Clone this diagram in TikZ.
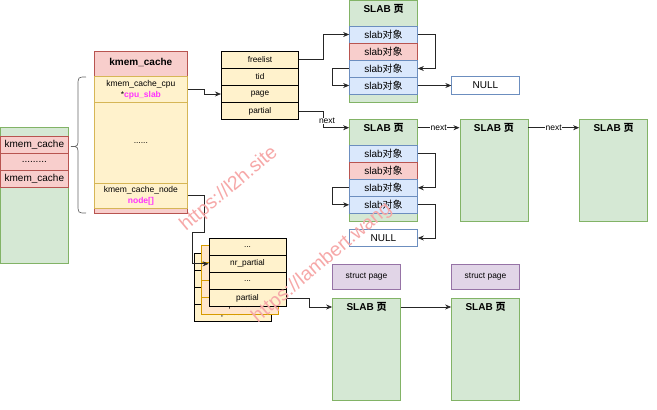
\documentclass[tikz,border=0pt]{standalone}
\usepackage{fontspec}
\setmainfont{Liberation Sans}
\newfontfamily\cjk{Noto Sans CJK SC}
\usetikzlibrary{arrows.meta}

\definecolor{greenfill}{HTML}{D5E8D4}
\definecolor{greenline}{HTML}{82B366}
\definecolor{pinkfill}{HTML}{F8CECC}
\definecolor{pinkline}{HTML}{B85450}
\definecolor{yellowfill}{HTML}{FFF2CC}
\definecolor{yellowline}{HTML}{D6B656}
\definecolor{bluefill}{HTML}{DAE8FC}
\definecolor{blueline}{HTML}{6C8EBF}
\definecolor{purplefill}{HTML}{E1D5E7}
\definecolor{purpleline}{HTML}{9673A6}
\definecolor{orangefill}{HTML}{FFE6CC}
\definecolor{orangeline}{HTML}{D79B00}
\definecolor{hotpink}{HTML}{FF33FF}
\definecolor{markred}{HTML}{F6A8A8}

\tikzset{
    greenbox/.style={draw=greenline, fill=greenfill, inner sep=0pt},
    pinkrow/.style={draw=pinkline, fill=pinkfill, minimum height=17pt, inner sep=0pt, font=\fontsize{10}{12}\selectfont},
    pinkbox/.style={draw=pinkline, fill=pinkfill, inner sep=0pt},
    yellowrow/.style={draw=yellowline, fill=yellowfill, minimum width=93.7pt, inner sep=0pt, align=center, font=\fontsize{8.5}{10.7}\selectfont},
    fieldcell/.style={draw=black, fill=yellowfill, minimum width=77pt, minimum height=17.2pt, inner sep=0pt, font=\fontsize{8.3}{10}\selectfont},
    orangecell/.style={fieldcell, draw=orangeline, fill=orangefill},
    slabpage/.style={draw=greenline, fill=greenfill, minimum width=68pt, inner sep=0pt},
    slabtitle/.style={minimum width=68pt, inner sep=0pt, font=\bfseries\fontsize{10}{12}\selectfont},
    objcell/.style={draw=blueline, fill=bluefill, minimum width=68pt, minimum height=17pt, inner sep=0pt, font=\fontsize{10}{12}\selectfont},
    usedcell/.style={objcell, draw=pinkline, fill=pinkfill},
    nullbox/.style={draw=blueline, fill=white, minimum height=17.5pt, inner sep=0pt, font=\fontsize{10}{12}\selectfont},
    pagebox/.style={draw=purpleline, fill=purplefill, minimum width=68pt, minimum height=25.3pt, inner sep=0pt, font=\fontsize{8.4}{10}\selectfont},
    link/.style={->, draw=black!85},
    nextlbl/.style={fill=white, inner sep=0.5pt, font=\fontsize{8.5}{10}\selectfont},
    watermark/.style={text=markred, rotate=40, font=\fontsize{19.5}{22}\selectfont}
}

\begin{document}
\begin{tikzpicture}[x=1pt, y=-1pt, >={Stealth[length=6pt,width=5pt]}, line width=0.7pt]
    \useasboundingbox (0,0) rectangle (657,410);

    % list of caches
    \node[greenbox, minimum width=68.7pt, minimum height=135.3pt] (caches) at (34.35,195.35) {};
    \node[pinkrow, minimum width=68.7pt] (cl-1) at (34.35,145.2) {kmem\_cache};
    \node[pinkrow, minimum width=68.7pt] (cl-2) at (34.35,162.2) {.........};
    \node[pinkrow, minimum width=68.7pt] (cl-3) at (34.35,179.2) {kmem\_cache};

    \draw[black!60] (86,77) .. controls (78,77) .. (78,86) -- (78,138)
        .. controls (78,146.5) .. (71,146.5) .. controls (78,146.5) .. (78,155)
        -- (78,204) .. controls (78,213) .. (86,213);

    % kmem_cache
    \node[pinkbox, minimum width=93.7pt, minimum height=162.3pt] (kc) at (140.85,132.15) {};
    \node[font=\bfseries\fontsize{10}{12}\selectfont] (kc-title) at (140.85,62) {kmem\_cache};
    \node[yellowrow, minimum height=25.6pt] (kc-cpu) at (140.85,89.5) {kmem\_cache\_cpu\\*{\color{hotpink}\bfseries cpu\_slab}};
    \node[yellowrow, minimum height=81pt] (kc-dots) at (140.85,142.8) {......};
    \node[yellowrow, minimum height=25pt] (kc-node) at (140.85,195.8) {kmem\_cache\_node\\{\color{hotpink}\bfseries node[]}};

    % kmem_cache_cpu
    \node[fieldcell, minimum width=77.4pt] (cs-free) at (260,59.6) {freelist};
    \node[fieldcell, minimum width=77.4pt] (cs-tid) at (260,76.8) {tid};
    \node[fieldcell, minimum width=77.4pt] (cs-page) at (260,94) {page};
    \node[fieldcell, minimum width=77.4pt] (cs-part) at (260,111.2) {partial};

    % current slab
    \node[slabpage, minimum height=102.4pt] (sa) at (383.5,51.2) {};
    \node[slabtitle] (sa-h) at (383.5,9) {SLAB {\cjk 页}};
    \node[objcell] (sa-1) at (383.5,34.5) {slab{\cjk 对象}};
    \node[usedcell] (sa-2) at (383.5,51.5) {slab{\cjk 对象}};
    \node[objcell] (sa-3) at (383.5,68.5) {slab{\cjk 对象}};
    \node[objcell] (sa-4) at (383.5,85.5) {slab{\cjk 对象}};
    \node[nullbox, minimum width=67.6pt] (null-a) at (485.5,85.5) {NULL};

    % partial slabs of the cpu
    \node[slabpage, minimum height=102.4pt] (sb) at (383.5,170.5) {};
    \node[slabtitle] (sb-h) at (383.5,127.7) {SLAB {\cjk 页}};
    \node[objcell] (sb-1) at (383.5,153.8) {slab{\cjk 对象}};
    \node[usedcell] (sb-2) at (383.5,170.8) {slab{\cjk 对象}};
    \node[objcell] (sb-3) at (383.5,187.8) {slab{\cjk 对象}};
    \node[objcell] (sb-4) at (383.5,204.8) {slab{\cjk 对象}};
    \node[nullbox, minimum width=68pt] (null-b) at (383.5,238) {NULL};

    \node[slabpage, minimum height=102.4pt] (sc) at (493.85,170.5) {};
    \node[slabtitle] (sc-h) at (493.85,127.7) {SLAB {\cjk 页}};
    \node[slabpage, minimum height=102.4pt] (sd) at (613.5,170.5) {};
    \node[slabtitle] (sd-h) at (613.5,127.7) {SLAB {\cjk 页}};

    % kmem_cache_node, three of them
    \node[fieldcell] (nk-1) at (232.5,261.6) {...};
    \node[fieldcell] (nk-2) at (232.5,278.8) {nr\_partial};
    \node[fieldcell] (nk-3) at (232.5,296) {...};
    \node[fieldcell] (nk-4) at (232.5,313.2) {partial};

    \node[orangecell] (nm-1) at (240,254.1) {...};
    \node[orangecell] (nm-2) at (240,271.3) {nr\_partial};
    \node[orangecell] (nm-3) at (240,288.5) {...};
    \node[orangecell] (nm-4) at (240,305.7) {partial};

    \node[fieldcell] (na-1) at (247.5,246.6) {...};
    \node[fieldcell] (na-2) at (247.5,263.8) {nr\_partial};
    \node[fieldcell] (na-3) at (247.5,281) {...};
    \node[fieldcell] (na-4) at (247.5,298.2) {partial};

    % partial slabs of the node
    \node[pagebox] (sp-e) at (366.5,276.65) {struct page};
    \node[pagebox, minimum width=67.6pt] (sp-f) at (485.5,276.65) {struct page};
    \node[slabpage, minimum height=101.7pt] (se) at (366.5,349.15) {};
    \node[slabtitle] (se-h) at (366.5,307) {SLAB {\cjk 页}};
    \node[slabpage, minimum width=67.6pt, minimum height=101.7pt] (sf) at (485.5,349.15) {};
    \node[slabtitle] (sf-h) at (485.5,307) {SLAB {\cjk 页}};

    % links
    \draw[link] (kc-cpu.east) -- ++(16.5,0) |- (cs-page.west);
    \draw[link] (kc-node.east) -- ++(16.5,0) -- ++(0,36.5) -- ++(-12.5,0) |- (na-2.west);
    \draw[link] (cs-free.east) -- ++(24.5,0) |- (sa-1.west);
    \draw[link] (sa-1.east) -- ++(17.5,0) |- (sa-3.east);
    \draw[link] (sa-3.west) -- ++(-17,0) |- (sa-4.west);
    \draw[link] (sa-4.east) -- (null-a.west);
    \draw[link] (cs-part.east) -- ++(24.5,0) |- node[nextlbl, pos=0.3, xshift=3.5pt] {next} (sb-h.west);
    \draw[link] (sb-1.east) -- ++(17,0) |- (sb-3.east);
    \draw[link] (sb-3.west) -- ++(-17,0) |- (sb-4.west);
    \draw[link] (sb-4.east) -- ++(17,0) |- (null-b.east);
    \draw[link] (sb-h.east) -- node[nextlbl] {next} (sc-h.west);
    \draw[link] (sc-h.east) -- node[nextlbl] {next} (sd-h.west);
    \draw[link] (na-4.east) -- ++(22.5,0) |- (se-h.west);
    \draw[link] (se-h.east) -- (sf-h.west);

    % marks
    \node[watermark] (mark-a) at (229,189) {https://l2h.site};
    \node[watermark] (mark-b) at (322,263) {https://lambert.wang};
\end{tikzpicture}
\end{document}
